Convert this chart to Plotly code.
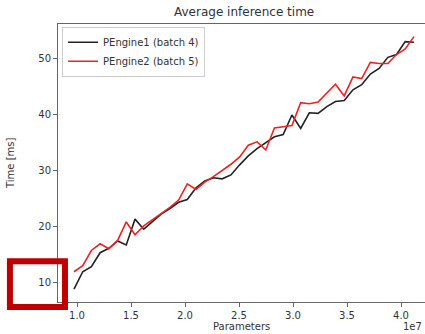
import plotly.graph_objects as go

# Data (parameters in units of 1e7, time in ms)
params = [0.972, 1.053, 1.133, 1.214, 1.295, 1.376, 1.456, 1.537, 1.618, 1.698,
          1.779, 1.860, 1.941, 2.021, 2.102, 2.183, 2.263, 2.344, 2.425, 2.506,
          2.586, 2.667, 2.748, 2.828, 2.909, 2.990, 3.071, 3.151, 3.232, 3.313,
          3.393, 3.474, 3.555, 3.636, 3.716, 3.797, 3.878, 3.958, 4.039, 4.120]
engine1 = [8.9, 12.0, 12.9, 15.4, 16.2, 17.5, 16.8, 21.4, 19.6, 20.9,
           22.3, 23.3, 24.4, 24.9, 27.0, 28.2, 28.8, 28.6, 29.3, 31.1,
           32.7, 34.0, 35.1, 36.1, 36.5, 40.0, 37.6, 40.4, 40.3, 41.5,
           42.4, 42.6, 44.5, 45.4, 47.3, 48.3, 50.3, 50.8, 53.1, 53.0]
engine2 = [12.0, 13.1, 15.8, 17.0, 16.1, 17.6, 20.9, 18.6, 20.2, 21.3,
           22.3, 23.5, 24.8, 27.7, 26.7, 28.0, 29.0, 30.1, 31.2, 32.5,
           34.6, 35.2, 33.75, 37.7, 37.9, 38.1, 42.2, 42.0, 42.3, 43.9,
           45.5, 43.4, 46.8, 46.5, 49.4, 49.2, 49.2, 50.8, 51.8, 54.0]
x_ticks = [1.0, 1.5, 2.0, 2.5, 3.0, 3.5, 4.0]
y_ticks = [10, 20, 30, 40, 50]

FONT = "DejaVu Sans"
fig = go.Figure()
fig.add_trace(go.Scatter(x=params, y=engine1, mode="lines", name="PEngine1 (batch 4)",
                         line=dict(color="#222222", width=1.6)))
fig.add_trace(go.Scatter(x=params, y=engine2, mode="lines", name="PEngine2 (batch 5)",
                         line=dict(color="#ee2222", width=1.6)))

axis_common = dict(showgrid=False, zeroline=False, showline=True, linecolor="#666666",
                   linewidth=1, ticks="outside", ticklen=4, tickcolor="#666666",
                   tickfont=dict(family=FONT, size=10, color="#333333"))
fig.update_xaxes(range=[0.824, 4.222], tickvals=x_ticks,
                 ticktext=[f"{v:.1f}" for v in x_ticks], mirror=True, **axis_common)
fig.update_yaxes(range=[6.6, 56.25], tickvals=y_ticks,
                 ticktext=[str(v) for v in y_ticks], mirror=False, **axis_common)

fig.update_layout(
    width=425, height=334,
    margin=dict(l=58, r=0, t=24, b=32),
    paper_bgcolor="white", plot_bgcolor="white",
    font=dict(family=FONT, color="#333333"),
    showlegend=True,
    legend=dict(x=0.011, y=0.99, xanchor="left", yanchor="top",
                bgcolor="rgba(255,255,255,0.8)", bordercolor="#cccccc", borderwidth=1,
                font=dict(family=FONT, size=10, color="#333333"),
                tracegroupgap=0, itemwidth=30),
    annotations=[
        dict(text="Average inference time", xref="paper", yref="paper",
             x=0.508, y=1.0, yshift=12, xanchor="center", yanchor="middle",
             showarrow=False, font=dict(family=FONT, size=12, color="#333333")),
        dict(text="Parameters", xref="paper", yref="paper",
             x=0.501, y=0, yshift=-24, xanchor="center", yanchor="middle",
             showarrow=False, font=dict(family=FONT, size=10, color="#333333")),
        dict(text="1e7", xref="paper", yref="paper",
             x=0.998, y=0, yshift=-24, xanchor="right", yanchor="middle",
             showarrow=False, font=dict(family=FONT, size=10, color="#333333")),
        dict(text="Time [ms]", xref="paper", yref="paper",
             x=0, xshift=-48, y=0.5, xanchor="center", yanchor="middle", textangle=-90,
             showarrow=False, font=dict(family=FONT, size=10, color="#333333")),
    ],
    shapes=[
        dict(type="rect", xref="paper", yref="paper",
             x0=-0.131, x1=0.019, y0=-0.018, y1=0.147,
             line=dict(color="#c00000", width=6), fillcolor="rgba(0,0,0,0)", layer="above"),
    ],
)

fig.write_html("out.html")
